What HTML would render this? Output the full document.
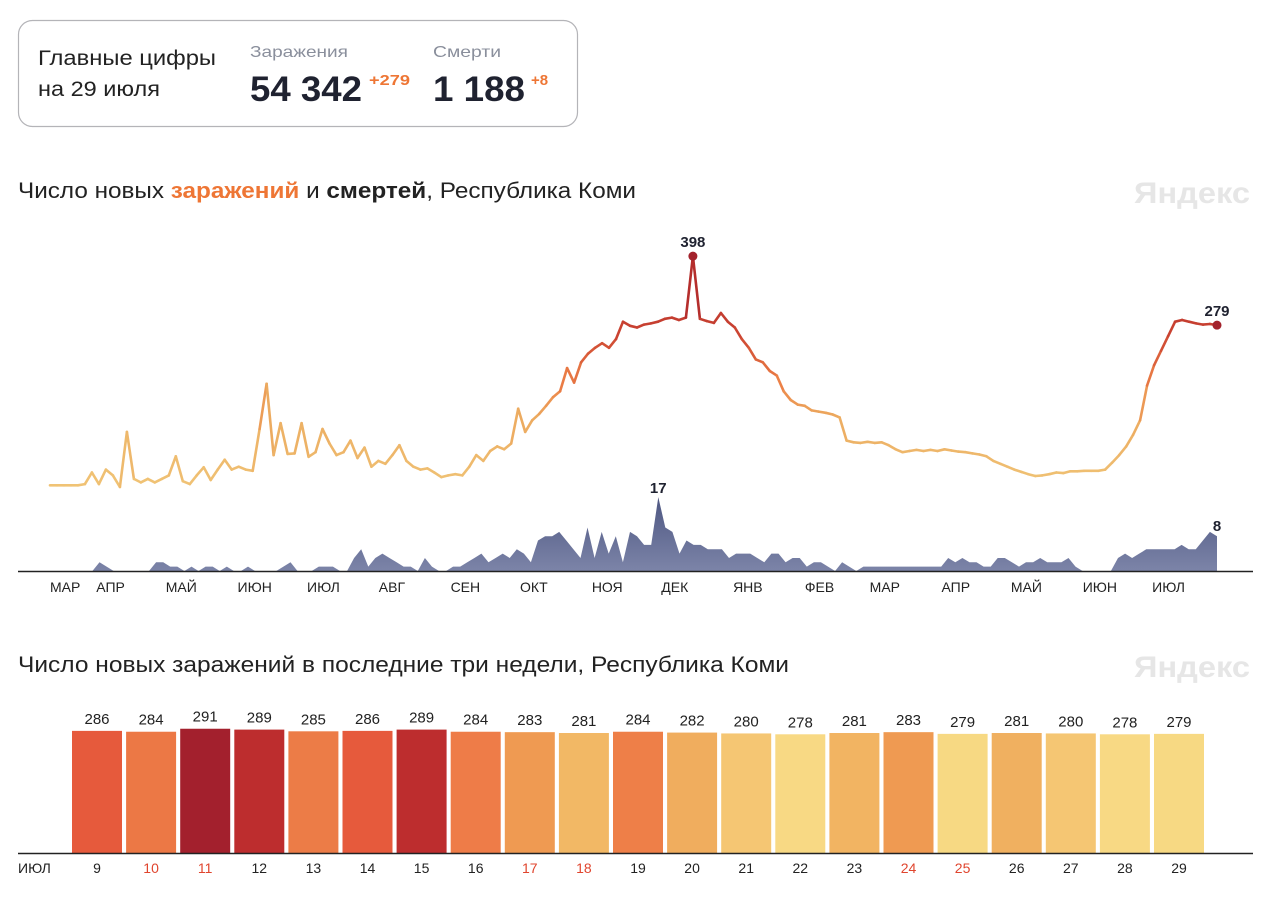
<!DOCTYPE html>
<html><head><meta charset="utf-8">
<style>
html,body{margin:0;padding:0;background:#fff;}
svg{display:block;font-family:"Liberation Sans","DejaVu Sans",sans-serif;}
</style></head>
<body>
<svg id="page" width="1280" height="899" viewBox="0 0 1280 899" xmlns="http://www.w3.org/2000/svg">
  <g>
    <rect x="18.5" y="20.5" width="559" height="106" rx="14" fill="#fff" stroke="#b4b4b8" stroke-width="1.2"/>
    <text x="38" y="65" font-size="21" fill="#222" textLength="178" lengthAdjust="spacingAndGlyphs">Главные цифры</text>
    <text x="38" y="96" font-size="21" fill="#222" textLength="122" lengthAdjust="spacingAndGlyphs">на 29 июля</text>
    <text x="250" y="57" font-size="16" fill="#8a8f9c" textLength="98" lengthAdjust="spacingAndGlyphs">Заражения</text>
    <text x="250" y="101" font-size="35" font-weight="bold" fill="#1f2230" textLength="112" lengthAdjust="spacingAndGlyphs">54 342</text>
    <text x="369" y="85" font-size="15" font-weight="bold" fill="#ee7635" textLength="41" lengthAdjust="spacingAndGlyphs">+279</text>
    <text x="433" y="57" font-size="16" fill="#8a8f9c" textLength="68" lengthAdjust="spacingAndGlyphs">Смерти</text>
    <text x="433" y="101" font-size="35" font-weight="bold" fill="#1f2230" textLength="92" lengthAdjust="spacingAndGlyphs">1 188</text>
    <text x="531" y="85" font-size="15" font-weight="bold" fill="#ee7635">+8</text>
  </g>

  <text x="18" y="198" font-size="22" fill="#222" textLength="618" lengthAdjust="spacingAndGlyphs">Число новых <tspan fill="#ee7635" font-weight="bold">заражений</tspan> и <tspan font-weight="bold">смертей</tspan>, Республика Коми</text>
  <text x="1250" y="203" font-size="30" font-weight="bold" fill="#e6e6e6" text-anchor="end" textLength="116" lengthAdjust="spacingAndGlyphs">Яндекс</text>

  <g id="lineChart"></g>

  <text x="18" y="672" font-size="22" fill="#222" textLength="771" lengthAdjust="spacingAndGlyphs">Число новых заражений в последние три недели, Республика Коми</text>
  <text x="1250" y="677" font-size="30" font-weight="bold" fill="#e6e6e6" text-anchor="end" textLength="116" lengthAdjust="spacingAndGlyphs">Яндекс</text>

  <g id="barChart"></g>
</svg>

<script>
// ===== line chart data (3-day steps, Mar 2020 – Jul 29 2021) =====
const infections = [3,3,3,3,3,5,25,5,30,20,0,95,14,8,14,8,14,20,53,10,5,20,34,12,30,47,30,35,30,28,100,178,55,110,57,58,110,52,60,100,75,55,60,80,50,68,35,45,40,55,72,45,35,30,32,25,17,20,22,20,35,55,45,62,70,65,75,135,95,115,126,140,155,165,205,180,215,230,240,248,240,255,285,278,275,280,282,285,290,292,288,292,398,290,286,283,300,285,275,255,240,220,215,200,192,165,150,142,140,132,130,128,125,120,80,77,76,78,76,77,72,65,60,62,64,62,64,62,65,63,61,60,58,56,53,45,40,35,30,26,22,19,20,22,25,24,27,27,28,28,28,30,42,55,70,90,115,175,210,235,260,285,288,285,282,280,281,279];
const deaths = [0,0,0,0,0,0,0,2,1,0,0,0,0,0,0,2,2,1,1,0,1,0,1,1,0,1,0,0,1,0,0,0,0,1,2,0,0,0,1,1,1,0,0,3,5,1,3,4,3,2,1,1,0,3,1,0,0,1,1,2,3,4,2,3,4,3,5,4,2,7,8,8,9,7,5,3,10,3,9,4,8,2,9,8,6,6,17,10,9,4,7,6,6,5,5,5,3,4,4,4,3,2,4,4,2,3,3,1,2,2,1,0,2,1,0,1,1,1,1,1,1,1,1,1,1,1,1,3,2,3,2,2,1,1,3,3,2,1,2,2,3,2,2,2,3,1,0,0,0,0,0,3,4,3,4,5,5,5,5,5,6,5,5,7,9,8];
const monthLabels = ["МАР","АПР","МАЙ","ИЮН","ИЮЛ","АВГ","СЕН","ОКТ","НОЯ","ДЕК","ЯНВ","ФЕВ","МАР","АПР","МАЙ","ИЮН","ИЮЛ"];
const monthStartDay = [-11,20,50,81,111,142,173,203,234,264,295,326,354,385,415,446,476]; // day offset from series start
const totalDays = 504;

// ===== bar chart data =====
const barDays = ["9","10","11","12","13","14","15","16","17","18","19","20","21","22","23","24","25","26","27","28","29"];
const barValues = [286,284,291,289,285,286,289,284,283,281,284,282,280,278,281,283,279,281,280,278,279];
const weekendDays = ["10","11","17","18","24","25"];
const barColors = ["#e65a3c","#ec7845","#a3202d","#bd2d2e","#ec7c47","#e65a3c","#bd2d2e","#ee7c48","#ef9a52","#f2b865","#ee7f48","#f0ad5e","#f5c673","#f8d984","#f2b462","#ef9a52","#f7d983","#f0b060","#f5c673","#f8d984","#f7d983"];

const NS = "http://www.w3.org/2000/svg";
function mk(tag, attrs, parent){ const e=document.createElementNS(NS,tag); for(const k in attrs) e.setAttribute(k,attrs[k]); parent.appendChild(e); return e; }

// ---- line chart ----
(function(){
  const g = document.getElementById('lineChart');
  const x0 = 50, x1 = 1217;
  const xi = (i,n) => x0 + (x1-x0)*i/(n-1);
  const xd = d => x0 + (x1-x0)*d/totalDays;
  const yInf = v => 487 - v*0.58;
  const yDeath = v => 571 - v*4.35;

  function colorFor(v){
    const stops=[[0,[240,196,118]],[120,[236,170,95]],[180,[236,128,70]],[260,[205,70,50]],[400,[165,30,40]]];
    for(let k=1;k<stops.length;k++){ if(v<=stops[k][0]){ const a=stops[k-1],b=stops[k]; const t=(v-a[0])/(b[0]-a[0]); return 'rgb('+a[1].map((c,j)=>Math.round(c+(b[1][j]-c)*t)).join(',')+')'; } }
    return 'rgb(165,30,40)';
  }

  const nd = deaths.length;
  let dpath = 'M'+xi(0,nd)+',571';
  deaths.forEach((v,i)=>{ dpath += ' L'+xi(i,nd).toFixed(1)+','+yDeath(v).toFixed(1); });
  dpath += ' L'+xi(nd-1,nd)+',571 Z';
  const defs = mk('defs',{},g);
  const lg = mk('linearGradient',{id:'dg',x1:0,y1:0,x2:0,y2:1},defs);
  mk('stop',{offset:'0%','stop-color':'#4e5782'},lg);
  mk('stop',{offset:'100%','stop-color':'#7c84a8'},lg);
  const area = mk('path',{d:dpath,fill:'url(#dg)'},g);
  
  

  const ax = mk('line',{x1:18,x2:1253,y1:571.5,y2:571.5,stroke:'#222','stroke-width':1.5},g);
  
  

  const ni = infections.length;
  const lineG = mk('g',{fill:'none','stroke-width':2.6,'stroke-linejoin':'round','stroke-linecap':'round'},g);
  
  
  for(let i=1;i<ni;i++){
    const s = mk('line',{x1:xi(i-1,ni).toFixed(1),y1:yInf(infections[i-1]).toFixed(1),x2:xi(i,ni).toFixed(1),y2:yInf(infections[i]).toFixed(1),stroke:colorFor((infections[i-1]+infections[i])/2)},lineG);
    
    
  }

  let pk=0; infections.forEach((v,i)=>{ if(v>infections[pk]) pk=i; });
  const pkDot = mk('circle',{cx:xi(pk,ni),cy:yInf(infections[pk]),r:4.5,fill:'#a3222c'},g);
  
  
  const pkT = mk('text',{x:xi(pk,ni),y:yInf(infections[pk])-9,'font-size':15,'font-weight':'bold','text-anchor':'middle',fill:'#1f2230'},g);
  pkT.textContent = infections[pk];
  
  
  const last = infections[ni-1];
  const lDot = mk('circle',{cx:xi(ni-1,ni),cy:yInf(last),r:4.5,fill:'#a3222c'},g);
  
  
  const lT = mk('text',{x:xi(ni-1,ni),y:yInf(last)-9,'font-size':15,'font-weight':'bold','text-anchor':'middle',fill:'#1f2230'},g);
  lT.textContent = last;
  
  

  let dk=0; deaths.forEach((v,i)=>{ if(v>deaths[dk]) dk=i; });
  const dT = mk('text',{x:xi(dk,nd),y:yDeath(deaths[dk])-4,'font-size':15,'font-weight':'bold','text-anchor':'middle',fill:'#1f2230'},g);
  dT.textContent = deaths[dk];
  
  
  const dl = mk('text',{x:xi(nd-1,nd),y:yDeath(deaths[nd-1])-5,'font-size':15,'font-weight':'bold','text-anchor':'middle',fill:'#1f2230'},g);
  dl.textContent = deaths[nd-1];
  
  

  monthLabels.forEach((m,i)=>{
    const x = Math.max(50, xd(monthStartDay[i]));
    const t = mk('text',{x:x,y:592,'font-size':14,fill:'#222'},g);
    t.textContent = m;
    
    
  });
})();

// ---- bar chart ----
(function(){
  const g = document.getElementById('barChart');
  const base = 853, k = 0.427, left = 72, pitch = 54.1, bw = 50;
  const xb = i => left + i*pitch;
  const yb = v => base - v*k;
  barValues.forEach((v,i)=>{
    const r = mk('rect',{x:xb(i),y:yb(v),width:bw,height:base-yb(v),fill:barColors[i]},g);
    
    
    const t = mk('text',{x:xb(i)+bw/2,y:yb(v)-7,'font-size':15,'text-anchor':'middle',fill:'#222'},g);
    t.textContent = v;
    
    
    const d = mk('text',{x:xb(i)+bw/2,y:873,'font-size':14,'text-anchor':'middle',fill: weekendDays.includes(barDays[i])?'#e0452e':'#222'},g);
    d.textContent = barDays[i];
    
    
  });
  const ax = mk('line',{x1:18,x2:1253,y1:853.5,y2:853.5,stroke:'#222','stroke-width':1.5},g);
  
  
  const m = mk('text',{x:18,y:873,'font-size':14,fill:'#222'},g);
  m.textContent = 'ИЮЛ';
  
  
})();
</script>
</body></html>
